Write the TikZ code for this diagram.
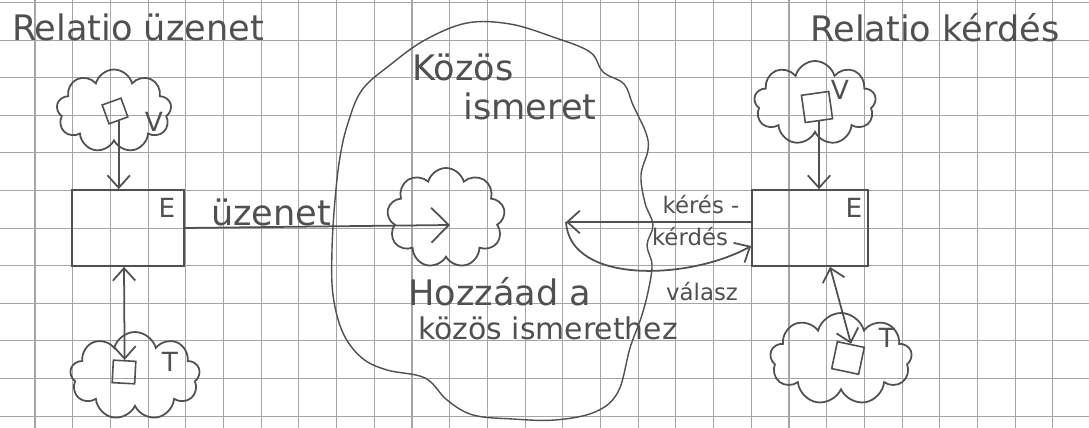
\documentclass[tikz,border=0pt]{standalone}
\usepackage{fontspec}
\setmainfont{DejaVu Sans}
\usetikzlibrary{arrows.meta,shapes.symbols}
\definecolor{pencil}{RGB}{80,80,80}
\definecolor{gridgray}{RGB}{165,165,165}

\begin{document}
\begin{tikzpicture}[x=0.02cm, y=-0.02cm,
    cloudnode/.style={cloud, cloud puffs=9, cloud ignores aspect, draw=pencil, line width=1pt, inner sep=0pt},
    sqnode/.style={rectangle, draw=pencil, line width=0.9pt, minimum size=0.4cm, inner sep=0pt},
    ebox/.style={rectangle, draw=pencil, line width=1pt, minimum height=1.52cm, inner sep=0pt},
    hand/.style={text=pencil, inner sep=1pt},
    bigtext/.style={hand, font=\fontsize{20}{24}\selectfont},
    midtext/.style={hand, font=\fontsize{17}{20}\selectfont},
    lettertext/.style={hand, font=\fontsize{15}{18}\selectfont},
    smalltext/.style={hand, font=\fontsize{13}{15}\selectfont},
    arrow/.style={-{Straight Barb[length=2.5mm, width=4.5mm]}, line width=1pt, draw=pencil},
    darrow/.style={{Straight Barb[length=2.5mm, width=4.5mm]}-{Straight Barb[length=2.5mm, width=4.5mm]}, line width=1pt, draw=pencil}
]
    % Paper with grid
    \useasboundingbox (0,0) rectangle (1089,428);
    \fill[white] (0,0) rectangle (1089,428);
    \foreach \k in {0,...,28} {
        \draw[gridgray, line width=0.6pt] ({-2.7+37.7*\k},0) -- ({-2.7+37.7*\k},428);
    }
    \foreach \k in {0,...,11} {
        \draw[gridgray, line width=0.6pt] (0,{2.5+37.6*\k}) -- (1089,{2.5+37.6*\k});
    }

    % Titles
    \node[bigtext] (t1) at (138,27) {Relatio üzenet};
    \node[bigtext] (t2) at (935,28) {Relatio kérdés};

    % Common knowledge
    \draw[pencil, line width=0.8pt] plot[smooth cycle, tension=0.6] coordinates {
        (467,23) (510,24) (553,37) (590,52) (603,72) (624,84) (633,105) (646,133)
        (648,150) (641,175) (645,203) (653,225) (647,245) (652,265) (648,292)
        (641,318) (630,348) (618,392) (595,412) (555,420) (513,419) (473,415)
        (447,400) (425,378) (387,370) (362,358) (343,333) (333,295) (332,250)
        (335,200) (340,157) (348,123) (362,90) (390,65) (425,40)};
    \node[bigtext] (k1) at (463,67) {Közös};
    \node[bigtext] (k2) at (530,106) {ismeret};
    \node[cloudnode, minimum width=2.36cm, minimum height=2cm] (sc) at (446,218) {};
    \node[bigtext] (k3) at (500,292) {Hozzáad a};
    \node[midtext] (k4) at (548,328) {közös ismerethez};

    % Left side: message
    \node[cloudnode, minimum width=2.3cm, minimum height=1.66cm] (vl) at (114,111) {};
    \node[sqnode, rotate=20] (sqvl) at (115,111) {};
    \node[lettertext] (lvl) at (154,122) {V};
    \node[ebox, minimum width=2.24cm] (el) at (128,228) {};
    \node[lettertext] (lel) at (167,208) {E};
    \node[cloudnode, minimum width=2.6cm, minimum height=1.76cm] (tl) at (135,376) {};
    \node[sqnode, minimum size=0.45cm, rotate=-3] (sqtl) at (124,372) {};
    \node[lettertext] (ltl) at (170,362) {T};

    \draw[arrow] (sqvl.south) -- (sqvl.south |- el.north);
    \draw[darrow] (el.south -| sqtl) -- (sqtl.north);
    \draw[arrow, -{Straight Barb[length=3.5mm, width=7mm]}] (el.east |- 0,228) -- (450,225) coordinate (uz);
    \node[bigtext] (lu) at (271,212) {üzenet};

    % Right side: question
    \node[cloudnode, minimum width=2.44cm, minimum height=1.68cm] (vr) at (815,103) {};
    \node[sqnode, minimum size=0.55cm, rotate=8] (sqvr) at (817,107) {};
    \node[lettertext] (lvr) at (840,90) {V};
    \node[ebox, minimum width=2.32cm] (er) at (810,228) {};
    \node[lettertext] (ler) at (854,208) {E};
    \node[cloudnode, minimum width=2.84cm, minimum height=1.84cm] (tr) at (841,359) {};
    \node[sqnode, minimum size=0.55cm, rotate=-12] (sqtr) at (848,358) {};
    \node[lettertext] (ltr) at (887,338) {T};

    \draw[arrow] (sqvr.south) -- (sqvr.south |- er.north);
    \draw[darrow] (er.south) ++(0.4cm,0) coordinate (erb) (erb) -- (sqtr.north);
    \coordinate (back) at (566,222);
    \draw[arrow] (er.west |- back) -- (back);
    \draw[arrow] (back) .. controls (570,285) and (690,280) .. ([yshift=-0.36cm]er.west);
    \node[smalltext] (lk1) at (701,205) {kérés -};
    \node[smalltext] (lk2) at (690,237) {kérdés};
    \node[smalltext] (lv) at (702,292) {válasz};
\end{tikzpicture}
\end{document}
